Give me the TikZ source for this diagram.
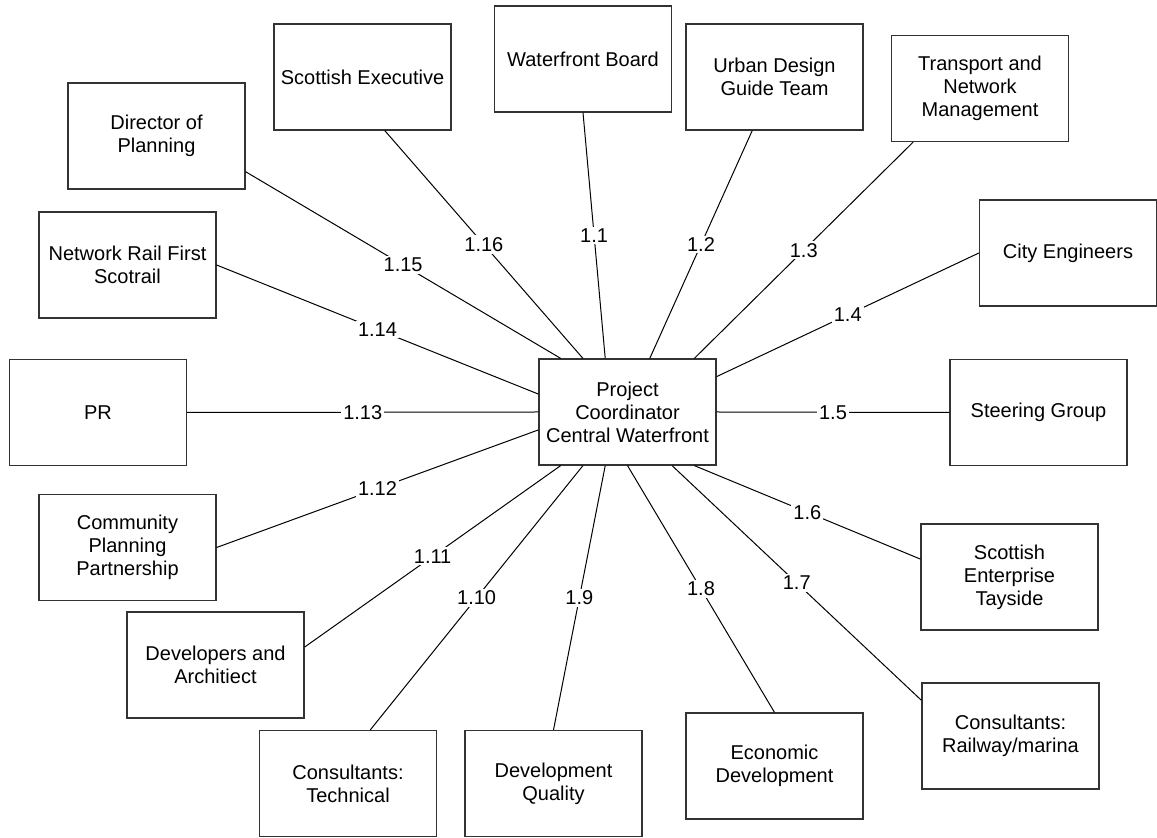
\documentclass[tikz,border=0pt]{standalone}
\usepackage{fontspec}
\setmainfont{Liberation Sans}
\usetikzlibrary{calc}
\begin{document}
\begin{tikzpicture}[x=0.5pt,y=-0.5pt,
  box/.style={draw=black!80, line width=0.6pt, minimum width=88.5pt, minimum height=53pt, inner sep=0pt, align=center, font=\fontsize{10}{11.5}\selectfont},
  conn/.style={line width=0.5pt},
  lbl/.style={fill=white, inner sep=1pt, font=\fontsize{10}{11.5}\selectfont}]
\useasboundingbox (0,0) rectangle (1157,838);
% centre
\node[box] (c) at (627.5,412) {Project\\Coordinator\\Central Waterfront};
% outer boxes
\node[box] (se)  at (362.5,77)   {Scottish Executive};
\node[box] (wb)  at (583,59)     {Waterfront Board};
\node[box] (ud)  at (774.5,77)   {Urban Design\\Guide Team};
\node[box] (tn)  at (980,88.5)   {Transport and\\Network\\Management};
\node[box] (ce)  at (1068,253)   {City Engineers};
\node[box] (sg)  at (1038.5,412.5) {Steering Group};
\node[box] (set) at (1009.5,577) {Scottish\\Enterprise\\Tayside};
\node[box] (cr)  at (1010.5,736) {Consultants:\\Railway/marina};
\node[box] (ed)  at (774.5,766)  {Economic\\Development};
\node[box] (dq)  at (553.5,783.5) {Development\\Quality};
\node[box] (ct)  at (348,783.5)  {Consultants:\\Technical};
\node[box] (da)  at (215.5,665)  {Developers and\\Architiect};
\node[box] (cpp) at (127.5,547.5) {Community\\Planning\\Partnership};
\node[box] (pr)  at (98,412.5)   {PR};
\node[box] (nr)  at (127.5,265)  {Network Rail First\\Scotrail};
\node[box] (dp)  at (156.5,136)  {Director of\\Planning};
% connectors
\draw[conn] ($(c.north west)!0.375!(c.north east)$) -- node[lbl]{1.1} (wb.south);
\draw[conn] ($(c.north west)!0.625!(c.north east)$) -- node[lbl]{1.2} ($(ud.south west)!0.375!(ud.south east)$);
\draw[conn] ($(c.north west)!0.875!(c.north east)$) -- node[lbl]{1.3} ($(tn.south west)!0.125!(tn.south east)$);
\draw[conn] ($(c.north east)!0.17!(c.south east)$) -- node[lbl]{1.4} (ce.west);
\draw[conn] (c.east) -- node[lbl]{1.5} (sg.west);
\draw[conn] ($(c.south west)!0.875!(c.south east)$) -- node[lbl]{1.6} ($(set.north west)!0.333!(set.south west)$);
\draw[conn] ($(c.south west)!0.75!(c.south east)$) -- node[lbl]{1.7} ($(cr.north west)!0.167!(cr.south west)$);
\draw[conn] (c.south) -- node[lbl]{1.8} (ed.north);
\draw[conn] ($(c.south west)!0.375!(c.south east)$) -- node[lbl]{1.9} (dq.north);
\draw[conn] ($(c.south west)!0.25!(c.south east)$) -- node[lbl]{1.10} ($(ct.north west)!0.625!(ct.north east)$);
\draw[conn] ($(c.south west)!0.125!(c.south east)$) -- node[lbl]{1.11} ($(da.north east)!0.333!(da.south east)$);
\draw[conn] ($(c.north west)!0.667!(c.south west)$) -- node[lbl]{1.12} (cpp.east);
\draw[conn] (c.west) -- node[lbl]{1.13} (pr.east);
\draw[conn] ($(c.north west)!0.333!(c.south west)$) -- node[lbl]{1.14} (nr.east);
\draw[conn] ($(c.north west)!0.125!(c.north east)$) -- node[lbl]{1.15} ($(dp.north east)!0.833!(dp.south east)$);
\draw[conn] ($(c.north west)!0.25!(c.north east)$) -- node[lbl]{1.16} ($(se.south west)!0.625!(se.south east)$);
\end{tikzpicture}
\end{document}
